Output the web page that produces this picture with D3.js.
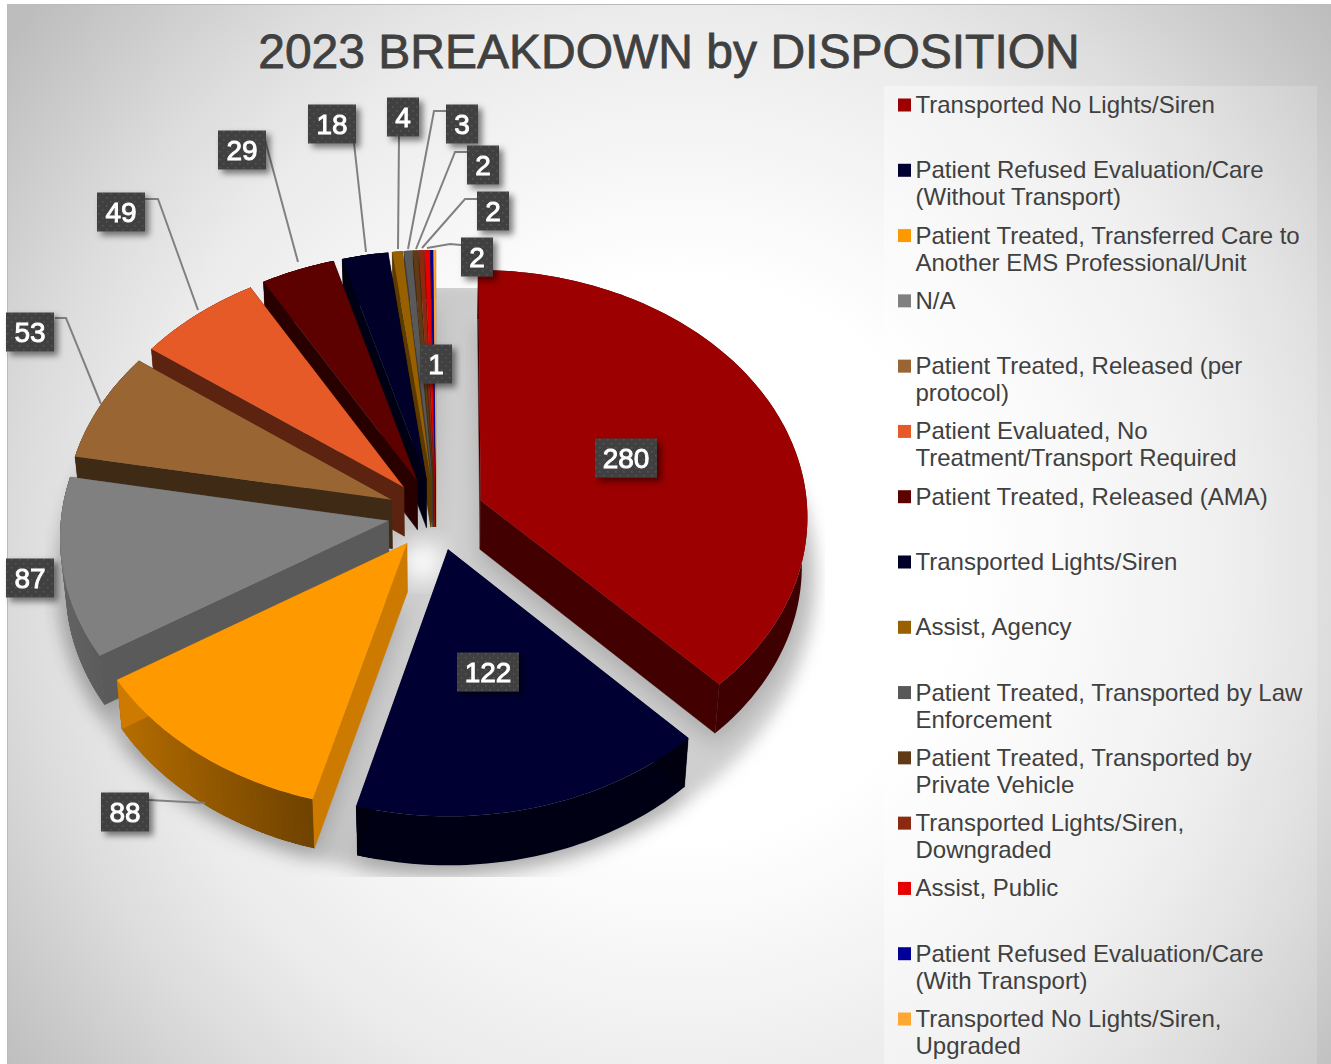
<!DOCTYPE html>
<html><head><meta charset="utf-8">
<script src="https://cdn.jsdelivr.net/npm/d3@7/dist/d3.min.js"></script>
<style>html,body{margin:0;padding:0;background:#fff;overflow:hidden}svg{display:block}text{font-family:"Liberation Sans",Arial,sans-serif}</style>
</head><body><svg id="c" width="1331" height="1064"></svg>
<script>
const titleText = "2023 BREAKDOWN by DISPOSITION";
const categories = [
 ["Transported No Lights/Siren"],
 ["Patient Refused Evaluation/Care","(Without Transport)"],
 ["Patient Treated, Transferred Care to","Another EMS Professional/Unit"],
 ["N/A"],
 ["Patient Treated, Released (per","protocol)"],
 ["Patient Evaluated, No","Treatment/Transport Required"],
 ["Patient Treated, Released (AMA)"],
 ["Transported Lights/Siren"],
 ["Assist, Agency"],
 ["Patient Treated, Transported by Law","Enforcement"],
 ["Patient Treated, Transported by","Private Vehicle"],
 ["Transported Lights/Siren,","Downgraded"],
 ["Assist, Public"],
 ["Patient Refused Evaluation/Care","(With Transport)"],
 ["Transported No Lights/Siren,","Upgraded"]
];
const values = [280,122,88,87,53,49,29,18,4,3,2,2,2,1,1];
const colors = ["#9c0000","#000033","#ff9900","#808080","#996633","#e65a28","#5c0000","#000028","#996000","#595959","#603a14","#8a2a10","#e60000","#000099","#ffa733"];
const wallTones = [.42,.3,.8,.7,.41,.4,.45,.5,.6,.7,.7,.7,.7,.7,.7];
// label box centres and leader polylines (page layout)
const labelCentres = [[626,458],[488,672],[125,812],[30,578],[30,332],[121,212],[242,150],[332,124],[403,117],[462,124],[483,165],[493,211],[477,257],[436,364],null];
const leaders = [
 [[149,800],[205,803]],
 [[55,318],[66,318],[101,404]],
 [[145,199],[158,199],[198,310]],
 [[265,140],[298,262]],
 [[354,143],[366,252]],
 [[399,136],[398,249]],
 [[446,111],[434,111],[408,249]],
 [[467,152],[455,152],[416,249]],
 [[477,199],[465,199],[422,248]],
 [[461,245],[450,244],[427,248]]
];
const svg = d3.select("#c");
const W=1331,H=1064;
const defs = svg.append("defs");
const bg = defs.append("radialGradient").attr("id","bg").attr("gradientUnits","userSpaceOnUse")
  .attr("cx",680).attr("cy",560).attr("r",850);
[[0,"#ffffff"],[.33,"#ffffff"],[.65,"#ebebeb"],[.78,"#dcdcdc"],[1,"#bdbdbd"]].forEach(s=>bg.append("stop").attr("offset",s[0]).attr("stop-color",s[1]));
const lg = defs.append("linearGradient").attr("id","panel").attr("x1",0).attr("y1",0).attr("x2",1).attr("y2",0);
lg.append("stop").attr("offset",0).attr("stop-color","#fff").attr("stop-opacity",.4);
lg.append("stop").attr("offset",1).attr("stop-color","#fff").attr("stop-opacity",.15);
const blurF=(id,sd)=>defs.append("filter").attr("id",id).attr("x","-30%").attr("y","-30%").attr("width","160%").attr("height","160%")
  .append("feGaussianBlur").attr("stdDeviation",sd);
blurF("blur",11); blurF("blurBig",8); blurF("blurSpot",12);
const ds = defs.append("filter").attr("id","ds").attr("x","-30%").attr("y","-30%").attr("width","170%").attr("height","170%");
ds.append("feDropShadow").attr("dx",4).attr("dy",4).attr("stdDeviation",3).attr("flood-color","#000").attr("flood-opacity",.5);
const pat = defs.append("pattern").attr("id","dots").attr("patternUnits","userSpaceOnUse").attr("width",8).attr("height",8);
pat.append("rect").attr("width",8).attr("height",8).attr("fill","#404040");
pat.append("rect").attr("x",1).attr("y",1).attr("width",1.5).attr("height",1.5).attr("fill","#565656");
pat.append("rect").attr("x",5).attr("y",5).attr("width",1.5).attr("height",1.5).attr("fill","#565656");
defs.append("clipPath").attr("id","shClip").append("rect").attr("x",45).attr("y",288).attr("width",780).attr("height",589);

svg.append("rect").attr("width",W).attr("height",H).attr("fill","#fff");
svg.append("rect").attr("x",7).attr("y",4).attr("width",W-7).attr("height",H-4).attr("fill","url(#bg)");
svg.append("path").attr("d",d3.line()([[7.5,1064],[7.5,4.5],[1331,4.5]])).attr("fill","none").attr("stroke","#bbb").attr("stroke-width",1);
svg.append("rect").attr("x",884).attr("y",86).attr("width",433).attr("height",H-86).attr("fill","url(#panel)");
svg.append("text").attr("x",669).attr("y",68).attr("text-anchor","middle").attr("font-size",48).attr("fill","#404040").attr("stroke","#404040").attr("stroke-width",.8).text(titleText);

// pie
const pie = d3.pie().sort(null).value(d=>d).startAngle(0).endAngle(2*Math.PI);
const arcs = pie(values);
const cx=436, cy=514, Rx=327, Ry=246, persp=.0608, expl=.148, depth=49, shrink=.985;
const scaleU = d3.scaleLinear().domain([0,1]).range([0,Rx]);
const scaleV = d3.scaleLinear().domain([0,1]).range([0,Ry]);
function proj(u,v,low){
  const s=1/(1-persp*v);
  const x=scaleU(u)*s, y=scaleV(v)*s;
  return low ? [cx+x*shrink, cy+y+depth] : [cx+x, cy+y];
}
function world(a,r){
  const m=(a.startAngle+a.endAngle)/2;
  return t=>[expl*Math.sin(m)+r*Math.sin(t), -(expl*Math.cos(m)+r*Math.cos(t))];
}
function rimAngles(a){const n=Math.max(2,Math.ceil((a.endAngle-a.startAngle)/.02));return d3.range(n+1).map(i=>a.startAngle+(a.endAngle-a.startAngle)*i/n);}
const line=d3.line();
function shade(c,f){return d3.interpolateRgb("#000",c)(f);}
function topPoly(a,low){
  const w=world(a,1), o=world(a,0)(0);
  return [proj(o[0],o[1],low)].concat(rimAngles(a).map(t=>{const p=w(t);return proj(p[0],p[1],low);}));
}
const order=arcs.map((a,i)=>i).sort((i,j)=>Math.cos((arcs[j].startAngle+arcs[j].endAngle)/2)-Math.cos((arcs[i].startAngle+arcs[i].endAngle)/2));
// shadow
const shRoot=svg.append("g").attr("clip-path","url(#shClip)").style("mix-blend-mode","multiply");
shRoot.append("ellipse").attr("cx",cx).attr("cy",cy+63).attr("rx",Rx*1.165).attr("ry",Ry*1.21)
  .attr("fill","#cfcfcf").attr("filter","url(#blurBig)");
shRoot.append("circle").attr("cx",cx-13).attr("cy",cy+48).attr("r",20).attr("fill","#fff").attr("filter","url(#blurSpot)");
const sh=shRoot.append("g").attr("filter","url(#blur)").attr("opacity",.22);
order.forEach(i=>{
  const lo=topPoly(arcs[i],true);
  sh.append("path").attr("d",line(lo)+"Z").attr("fill","#333").attr("transform","translate(0,10)");
});
const g=svg.append("g");
order.forEach(i=>{
  const a=arcs[i], c=colors[i], gi=g.append("g");
  const w=world(a,1), o=world(a,0)(0);
  const O=proj(o[0],o[1],false), Ol=proj(o[0],o[1],true);
  // outer rim as overlapping strips so no seams show; the top face hides its back part
  const ts=rimAngles(a);
  const strip=(t0,t1,col)=>{
    const n=Math.max(8,Math.ceil((t1-t0)/.02));
    const mid=d3.range(n+1).map(j=>t0+(t1-t0)*j/n).map(w);
    const hi=mid.map(p=>proj(p[0],p[1],false)), lo=mid.map(p=>proj(p[0],p[1],true)).reverse();
    gi.append("path").attr("d",line(hi.concat(lo))+"Z").attr("fill",col);
  };
  strip(ts[0],ts[ts.length-1],shade(c,.4));
  ts.slice(0,-1).forEach((t,k)=>{
    const f=.31-.48*Math.sin(t);
    if(f>.4) strip(t,ts[Math.min(k+2,ts.length-1)],shade(c,f));
  });
  // radial walls
  [a.startAngle,a.endAngle].forEach(t=>{
    const p=w(t), P=proj(p[0],p[1],false), Pl=proj(p[0],p[1],true);
    gi.append("path").attr("d",line([O,P,Pl,Ol])+"Z").attr("fill",shade(c,wallTones[i])).attr("stroke",shade(c,wallTones[i])).attr("stroke-width",.4);
  });
  gi.append("path").attr("d",line(topPoly(a,false))+"Z").attr("fill",c);
});
// leaders
svg.append("g").selectAll("path").data(leaders).join("path").attr("d",d=>line(d))
  .attr("fill","none").attr("stroke","#808080").attr("stroke-width",2);
// labels
const lab=svg.append("g").selectAll("g").data(values.map((v,i)=>({v,p:labelCentres[i]})).filter(d=>d.p)).join("g")
  .attr("transform",d=>`translate(${d.p[0]},${d.p[1]})`);
const bw=d=>[0,32,48,62][String(d.v).length];
lab.append("rect").attr("x",d=>-bw(d)/2).attr("y",-19.5).attr("width",bw).attr("height",39).attr("fill","url(#dots)").attr("filter","url(#ds)");
lab.append("text").attr("text-anchor","middle").attr("y",9.5).attr("font-size",28).attr("fill","#fff").attr("stroke","#fff").attr("stroke-width",.9).text(d=>d.v);
// legend
const ly=d3.scaleLinear().domain([0,14]).range([105,1019]);
const leg=svg.append("g").selectAll("g").data(categories).join("g").attr("transform",(d,i)=>`translate(898,${ly(i)})`);
leg.append("rect").attr("y",-6.5).attr("width",13).attr("height",13).attr("fill",(d,i)=>colors[i]);
leg.selectAll("text").data(d=>d).join("text").attr("x",17.5).attr("y",(d,i)=>8+i*27).attr("font-size",24).attr("fill","#404040").text(d=>d);
</script></body></html>
